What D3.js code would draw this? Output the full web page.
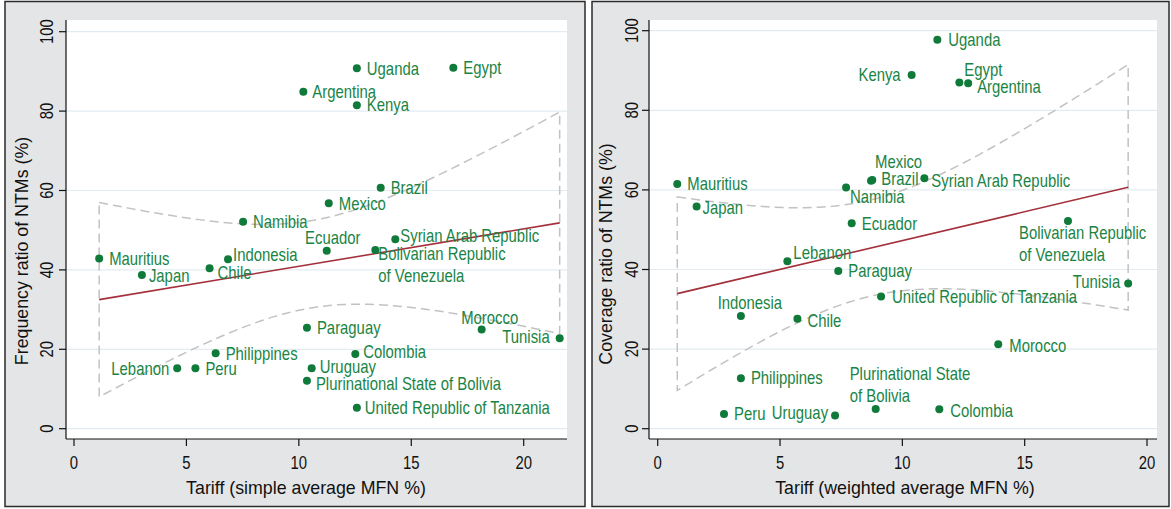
<!DOCTYPE html>
<html>
<head>
<meta charset="utf-8">
<script src="https://cdn.jsdelivr.net/npm/d3@7/dist/d3.min.js"></script>
<style>
  html, body { margin: 0; padding: 0; background: #ffffff; }
  svg { display: block; }
  text { font-family: "Liberation Sans", Arial, Helvetica, sans-serif; }
</style>
</head>
<body>
<svg id="chart" width="1171" height="509"></svg>
<script>
// Countries, in the same order as every value array below
const countries = ["Uganda", "Egypt", "Argentina", "Kenya", "Brazil", "Mexico", "Namibia",
  "Mauritius", "Japan", "Chile", "Indonesia", "Ecuador", "Venezuela", "Syria",
  "Philippines", "Lebanon", "Peru", "Paraguay", "Morocco", "Tunisia", "Colombia",
  "Uruguay", "Bolivia", "Tanzania"];

// Marker labels as printed in each panel
const freqLabels = ["Uganda", "Egypt", "Argentina", "Kenya", "Brazil", "Mexico", "Namibia",
  "Mauritius", "Japan", "Chile", "Indonesia", "Ecuador", "Bolivarian Republic\nof Venezuela",
  "Syrian Arab Republic", "Philippines", "Lebanon", "Peru", "Paraguay", "Morocco", "Tunisia",
  "Colombia", "Uruguay", "Plurinational State of Bolivia", "United Republic of Tanzania"];
const covLabels = ["Uganda", "Egypt", "Argentina", "Kenya", "Brazil", "Mexico", "Namibia",
  "Mauritius", "Japan", "Chile", "Indonesia", "Ecuador", "Bolivarian Republic\nof Venezuela",
  "Syrian Arab Republic", "Philippines", "Lebanon", "Peru", "Paraguay", "Morocco", "Tunisia",
  "Colombia", "Uruguay", "Plurinational State\nof Bolivia", "United Republic of Tanzania"];

// Left panel: simple average MFN tariff vs frequency ratio of NTMs
const simpleTariff = [12.58, 16.87, 10.20, 12.58, 13.64, 11.33, 7.52, 1.12, 3.02, 6.03, 6.85,
  11.24, 13.40, 14.29, 6.30, 4.59, 5.40, 10.36, 18.13, 21.60, 12.51, 10.57, 10.36, 12.58];
const frequencyRatio = [90.8, 90.9, 84.9, 81.5, 60.7, 56.8, 52.1, 42.9, 38.7, 40.4, 42.7,
  44.8, 45.0, 47.7, 19.0, 15.2, 15.2, 25.4, 25.0, 22.8, 18.8, 15.2, 12.1, 5.3];

// Right panel: weighted average MFN tariff vs coverage ratio of NTMs
const weightedTariff = [11.43, 12.33, 12.69, 10.38, 8.77, 8.72, 7.70, 0.80, 1.59, 5.71, 3.40,
  7.93, 16.77, 10.90, 3.40, 5.30, 2.71, 7.38, 13.92, 19.23, 11.51, 7.25, 8.91, 9.13];
const coverageRatio = [97.7, 87.0, 86.8, 88.9, 62.5, 62.3, 60.6, 61.5, 55.8, 27.6, 28.3,
  51.6, 52.2, 62.9, 12.7, 42.1, 3.7, 39.6, 21.2, 36.5, 4.9, 3.3, 4.95, 33.2];

// Axis ticks
const xTicks = [0, 5, 10, 15, 20];
const yTicks = [0, 20, 40, 60, 80, 100];

// Label placement per country: [dx, dy, anchor]
const freqPlacement = {
  Uganda: [10, 0, "start"], Egypt: [10, 0, "start"], Argentina: [9, 0, "start"],
  Kenya: [10, 0, "start"], Brazil: [10, 0, "start"], Mexico: [10, 0, "start"],
  Namibia: [10, 0, "start"], Mauritius: [10, 0, "start"], Japan: [7, 1, "start"],
  Chile: [8, 4, "start"], Indonesia: [5, -4, "start"], Ecuador: [6, -13, "middle"],
  Venezuela: [3, 4, "start"], Syria: [5, -4, "start"], Philippines: [10, 0, "start"],
  Lebanon: [-8, 0, "end"], Peru: [10, 0, "start"], Paraguay: [10, 0, "start"],
  Morocco: [8, -12, "middle"], Tunisia: [-10, -1, "end"], Colombia: [8, -2, "start"],
  Uruguay: [8, -2, "start"], Bolivia: [9, 3, "start"], Tanzania: [8, 0, "start"]
};
const covPlacement = {
  Uganda: [11, 0, "start"], Egypt: [5, -13, "start"], Argentina: [9, 3, "start"],
  Kenya: [-11, 0, "end"], Brazil: [9, -1, "start"], Mexico: [4, -19, "start"],
  Namibia: [4, 9, "start"], Mauritius: [10, 0, "start"], Japan: [6, 1, "start"],
  Chile: [10, 2, "start"], Indonesia: [9, -13, "middle"], Ecuador: [10, 0, "start"],
  Venezuela: [-49, 12, "start"], Syria: [7, 2, "start"], Philippines: [10, 0, "start"],
  Lebanon: [6, -8, "start"], Peru: [10, 0, "start"], Paraguay: [10, 0, "start"],
  Morocco: [11, 1, "start"], Tunisia: [-8, -2, "end"], Colombia: [11, 1, "start"],
  Uruguay: [-7, -3, "end"], Bolivia: [-26, -35, "start"], Tanzania: [11, 0, "start"]
};

// Colours
const panelFill = "#e4e5e7";
const gridColor = "#e2ecf0";
const dotColor = "#0f7a3a";
const labelColor = "#1a8445";
const fitColor = "#a3303a";
const ciColor = "#c2c2c2";

const svg = d3.select("#chart");
const narrow = 0.85;       // horizontal squeeze of tick and marker label glyphs
const labelSize = 17.5;
const titleSize = 17.8;
const tCrit = 2.0739;      // t(0.975, 22)

// Ordinary least squares with 95% confidence band of the mean prediction
function linearFit(xs, ys) {
  const n = xs.length;
  const mx = d3.mean(xs), my = d3.mean(ys);
  let sxx = 0, sxy = 0;
  xs.forEach((x, i) => { sxx += (x - mx) ** 2; sxy += (x - mx) * (ys[i] - my); });
  const b = sxy / sxx, a = my - b * mx;
  let sse = 0;
  xs.forEach((x, i) => { sse += (ys[i] - (a + b * x)) ** 2; });
  const s = Math.sqrt(sse / (n - 2));
  return {
    predict: x => a + b * x,
    half: x => tCrit * s * Math.sqrt(1 / n + (x - mx) ** 2 / sxx)
  };
}

function drawPanel(cfg) {
  const g = svg.append("g");
  // graph region
  g.append("rect")
    .attr("x", cfg.box[0]).attr("y", cfg.box[1])
    .attr("width", cfg.box[2] - cfg.box[0]).attr("height", cfg.box[3] - cfg.box[1])
    .attr("fill", panelFill).attr("stroke", "#2b2b2b").attr("stroke-width", 1.5);
  // plot region
  g.append("rect")
    .attr("x", cfg.plot[0]).attr("y", cfg.plot[1])
    .attr("width", cfg.plot[2] - cfg.plot[0]).attr("height", cfg.plot[3] - cfg.plot[1])
    .attr("fill", "#ffffff");

  const x = d3.scaleLinear().domain([0, 20]).range(cfg.xRange);
  const y = d3.scaleLinear().domain([0, 100]).range(cfg.yRange);

  // horizontal grid
  g.append("g").selectAll("line").data(yTicks).join("line")
    .attr("x1", cfg.plot[0]).attr("x2", cfg.plot[2])
    .attr("y1", d => y(d)).attr("y2", d => y(d))
    .attr("stroke", gridColor).attr("stroke-width", 1.2);

  // confidence band and fitted line
  const fit = linearFit(cfg.xs, cfg.ys);
  const [x0, x1] = d3.extent(cfg.xs);
  const grid = d3.range(0, 61).map(i => x0 + (x1 - x0) * i / 60);
  const upper = grid.map(v => [x(v), y(fit.predict(v) + fit.half(v))]);
  const lower = grid.map(v => [x(v), y(fit.predict(v) - fit.half(v))]).reverse();
  g.append("path")
    .attr("d", d3.line()(upper.concat(lower)) + "Z")
    .attr("fill", "none").attr("stroke", ciColor).attr("stroke-width", 1.5)
    .attr("stroke-dasharray", "9,5");
  g.append("line")
    .attr("x1", x(x0)).attr("y1", y(fit.predict(x0)))
    .attr("x2", x(x1)).attr("y2", y(fit.predict(x1)))
    .attr("stroke", fitColor).attr("stroke-width", 1.6);

  // axes
  const axisColor = "#111";
  g.append("line").attr("x1", cfg.plot[0]).attr("x2", cfg.plot[0])
    .attr("y1", cfg.plot[1]).attr("y2", cfg.plot[3])
    .attr("stroke", axisColor).attr("stroke-width", 1.2);
  g.append("line").attr("x1", cfg.plot[0]).attr("x2", cfg.plot[2])
    .attr("y1", cfg.plot[3]).attr("y2", cfg.plot[3])
    .attr("stroke", axisColor).attr("stroke-width", 1.2);

  g.append("g").selectAll("line").data(yTicks).join("line")
    .attr("x1", cfg.plot[0] - 7).attr("x2", cfg.plot[0])
    .attr("y1", d => y(d)).attr("y2", d => y(d))
    .attr("stroke", axisColor).attr("stroke-width", 1.2);
  g.append("g").selectAll("line").data(xTicks).join("line")
    .attr("x1", d => x(d)).attr("x2", d => x(d))
    .attr("y1", cfg.plot[3]).attr("y2", cfg.plot[3] + 7)
    .attr("stroke", axisColor).attr("stroke-width", 1.2);

  g.append("g").selectAll("text").data(yTicks).join("text")
    .attr("transform", d => `translate(${cfg.yTickX},${y(d)}) rotate(-90) scale(${narrow},1)`)
    .attr("text-anchor", "middle").attr("dy", "0.36em")
    .attr("font-size", labelSize).attr("fill", "#111")
    .text(d => d);
  g.append("g").selectAll("text").data(xTicks).join("text")
    .attr("transform", d => `translate(${x(d)},${cfg.xTickY}) scale(${narrow},1)`)
    .attr("text-anchor", "middle").attr("dy", "0.36em")
    .attr("font-size", labelSize).attr("fill", "#111")
    .text(d => d);

  // axis titles
  g.append("text")
    .attr("transform", `translate(${cfg.yTitle[0]},${cfg.yTitle[1]}) rotate(-90)`)
    .attr("text-anchor", "middle").attr("dy", "0.36em")
    .attr("font-size", titleSize).attr("fill", "#111")
    .text(cfg.yTitleText);
  g.append("text")
    .attr("x", cfg.xTitle[0]).attr("y", cfg.xTitle[1])
    .attr("text-anchor", "middle").attr("dy", "0.36em")
    .attr("font-size", titleSize).attr("fill", "#111")
    .text(cfg.xTitleText);

  // points
  const pts = countries.map((c, i) => ({ c, x: cfg.xs[i], y: cfg.ys[i], label: cfg.labels[i] }));
  g.append("g").selectAll("circle").data(pts).join("circle")
    .attr("cx", d => x(d.x)).attr("cy", d => y(d.y)).attr("r", 4)
    .attr("fill", dotColor);

  // marker labels
  const lg = g.append("g");
  pts.forEach(d => {
    const [dx, dy, anchor] = cfg.placement[d.c];
    const lines = d.label.split("\n");
    lines.forEach((ln, k) => {
      lg.append("text")
        .attr("transform", `translate(${x(d.x) + dx},${y(d.y) + dy + k * 21.5}) scale(${narrow},1)`)
        .attr("text-anchor", anchor).attr("dy", "0.36em")
        .attr("font-size", labelSize).attr("fill", labelColor)
        .text(ln);
    });
  });
}

drawPanel({
  box: [5, 1.5, 585, 506.5],
  plot: [66, 20, 567, 439],
  xRange: [74, 523.7],
  yRange: [428.7, 31.7],
  yTickX: 46.7, xTickY: 463,
  yTitle: [21.7, 251], xTitle: [306, 488],
  yTitleText: "Frequency ratio of NTMs (%)",
  xTitleText: "Tariff (simple average MFN %)",
  xs: simpleTariff, ys: frequencyRatio, labels: freqLabels, placement: freqPlacement
});

drawPanel({
  box: [592, 1.5, 1169, 506.5],
  plot: [649, 20, 1157, 439],
  xRange: [657.7, 1147],
  yRange: [428.7, 30.7],
  yTickX: 631.7, xTickY: 463,
  yTitle: [606, 254], xTitle: [905, 488],
  yTitleText: "Coverage ratio of NTMs (%)",
  xTitleText: "Tariff (weighted average MFN %)",
  xs: weightedTariff, ys: coverageRatio, labels: covLabels, placement: covPlacement
});
</script>
</body>
</html>
